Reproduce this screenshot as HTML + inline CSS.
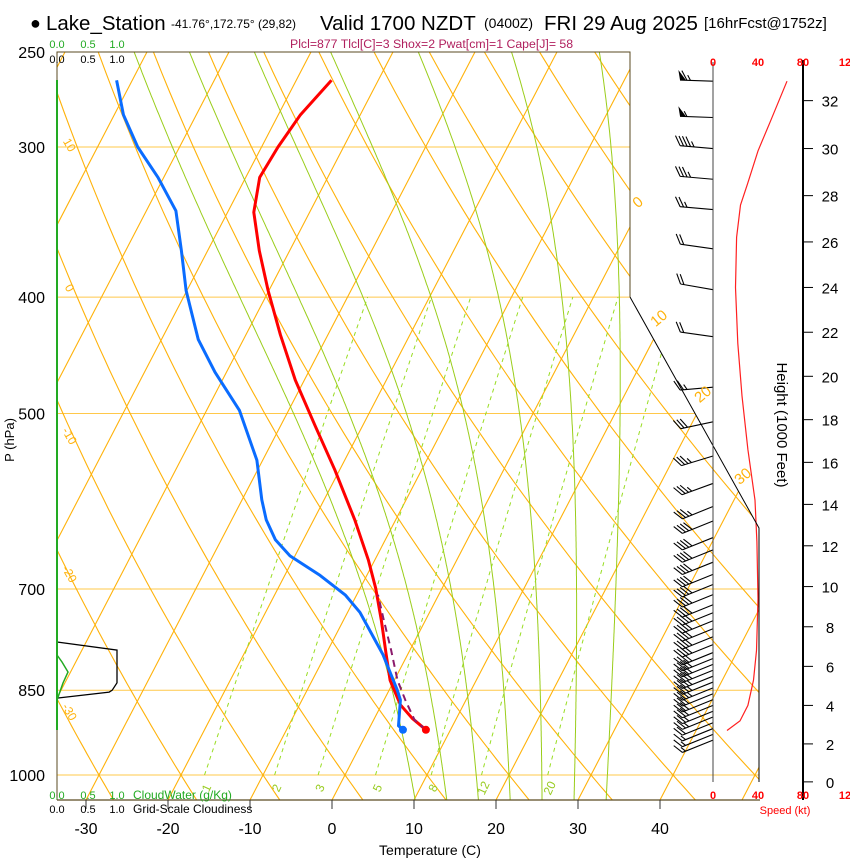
<!DOCTYPE html>
<html><head><meta charset="utf-8"><style>
html,body{margin:0;padding:0;background:#fff;}
svg{display:block;font-family:"Liberation Sans",Arial,sans-serif;}
</style></head><body>
<svg id="chart" width="850" height="860" viewBox="0 0 850 860" xmlns="http://www.w3.org/2000/svg">
<defs><clipPath id="plotclip"><polygon points="57,52 630,52 630,297 759,528 759,800 57,800"/></clipPath></defs>
<g id="grid" clip-path="url(#plotclip)"></g>
<g id="series"></g>
<g id="winds"></g>
<g id="axes"></g>
<g>
<text x="30" y="29" font-size="18">●</text>
<text x="46" y="30" font-size="20.5">Lake_Station</text>
<text x="171" y="28" font-size="12">-41.76°,172.75° (29,82)</text>
<text x="320" y="30" font-size="20.5">Valid 1700 NZDT</text>
<text x="484" y="28" font-size="14">(0400Z)</text>
<text x="544" y="30" font-size="20.5">FRI 29 Aug 2025</text>
<text x="704" y="28" font-size="15">[16hrFcst@1752z]</text>
<text x="290" y="48" font-size="12.3" fill="#b0205e">Plcl=877 Tlcl[C]=3 Shox=2 Pwat[cm]=1 Cape[J]= 58</text>
</g>
</svg>
<script>
// ---- data ----
const tempP = [264,282,300,318,340,366,395,430,469,511,557,613,662,699,743,794,834,874,897,917];
const tempT = [-45.7,-47.3,-48.0,-48.3,-46.8,-43.7,-40.1,-35.8,-31.1,-25.9,-20.6,-15.0,-10.8,-8.1,-5.4,-2.6,-0.5,2.3,4.6,7.0];
const dewP = [264,282,300,318,339,366,395,434,462,497,547,590,613,637,657,682,708,732,772,794,850,866,910,917];
const dewT = [-71.9,-68.9,-65.1,-60.7,-56.4,-53.2,-50.1,-45.5,-41.4,-36.0,-30.7,-27.6,-25.8,-23.4,-20.6,-15.7,-11.4,-8.5,-4.9,-3.0,1.0,2.0,3.4,4.2];
const parcelP = [917,900,866,834,787,743,708];
const parcelT = [7.0,5.0,2.6,0.4,-2.3,-5.1,-7.4];
const windH = [32.8,31.3,30.0,28.7,27.4,25.7,23.9,21.8,19.5,17.9,16.3,15.0,13.9,13.2,12.4,11.8,11.2,10.6,10.1,9.6,9.1,8.7,8.3,7.9,7.5,7.1,6.7,6.4,6.1,5.8,5.5,5.2,4.9,4.6,4.3,4.0,3.7,3.4,3.1,2.8,2.5,2.2];
const windSpd = [65,55,45,35,25,20,20,20,25,30,35,35,35,40,40,40,40,40,40,40,40,40,40,40,40,40,40,40,40,40,35,35,35,30,30,30,25,25,20,15,15,15];
const windDir = [272,272,275,275,275,278,280,278,265,258,253,250,248,248,248,248,248,248,248,248,248,248,248,248,248,248,248,248,248,248,248,248,248,248,248,248,248,248,248,248,248,248];
const speedH = [2.7,3.2,4.0,5.3,6.8,9.4,12.2,14.2,16.6,19.1,21.5,24.0,26.2,27.6,28.5,29.9,31.1,32.8];
const speedV = [12.4,24,31,36,38.7,40,39,37.3,31,25.8,22,20,21,24.4,30.7,40,50.7,65.8];
const cloudFracP = [775,787,838,850,853,863];
const cloudFracV = [0,1.0,1.0,0.92,0.87,0];
const tempTicks = [-30,-20,-10,0,10,20,30,40];
const presTicks = [250,300,400,500,700,850,1000];
const heightTicks = [0,2,4,6,8,10,12,14,16,18,20,22,24,26,28,30,32];
const mixRatios = [1,2,3,5,8,12,20];
const moistThetaW = [8,12,16,20,24,28,32];

// ---- axes functions ----
const NS="http://www.w3.org/2000/svg";
function yP(p){return 775-521.6*Math.log(1000/p);}
function xT(T,p){return 345+8.2*T+0.52*(775-yP(p));}
function pH(kft){const m=kft*304.8;return 1013.25*Math.pow(1-6.5e-3*m/288.15,5.256);}
function yH(kft){return yP(pH(kft));}
function xS(s){return 713+1.125*s;}
function el(tag,attrs,parent){const e=document.createElementNS(NS,tag);for(const k in attrs)e.setAttribute(k,attrs[k]);parent.appendChild(e);return e;}
function pathD(pts){return pts.map((q,i)=>(i?'L':'M')+q[0].toFixed(1)+','+q[1].toFixed(1)).join(' ');}
const grid=document.getElementById('grid'),series=document.getElementById('series'),winds=document.getElementById('winds'),axes=document.getElementById('axes');

presTicks.forEach(p=>{
  const l=el('line',{x1:57,x2:760,y1:yP(p),y2:yP(p),stroke:'#ffc84a','stroke-width':1},grid);
  
  
});
for(let T=-120;T<=50;T+=10){
  const l=el('line',{x1:xT(T,1050),y1:yP(1050),x2:xT(T,240),y2:yP(240),stroke:'#ffb20a','stroke-width':1.1},grid);
  
  
}
for(let th=-40;th<=170;th+=10){
  const pts=[];for(let p=1050;p>=240;p-=10){const Tk=(th+273.15)*Math.pow(p/1000,0.286);pts.push([xT(Tk-273.15,p),yP(p)]);}
  const l=el('path',{d:pathD(pts),fill:'none',stroke:'#ffb20a','stroke-width':1.1},grid);
  
  
}
function es(T){return 6.112*Math.exp(17.67*T/(T+243.5));}
moistThetaW.forEach(tw=>{
  function integ(p0,p1){let T=tw,p=p0;const pts=[[xT(T,p),yP(p)]];const dp=(p1>p0?2:-2);
    while((dp<0&&p>p1)||(dp>0&&p<p1)){const Tk=T+273.15,e=es(T),rs=0.622*e/(p-e);
      const d=(287*Tk+2.5e6*rs)/(1004+2.5e6*2.5e6*rs*0.622/(287*Tk*Tk))/p;T+=d*dp;p+=dp;pts.push([xT(T,p),yP(p)]);}
    return pts;}
  const up=integ(1000,240),dn=integ(1000,1050);
  const pts=dn.reverse().concat(up);
  const l=el('path',{d:pathD(pts),fill:'none',stroke:'#9acd1a','stroke-width':1},grid);
  
  
});
mixRatios.forEach(w=>{
  const pts=[];for(let p=1000;p>=400;p-=10){const e=w*p/(622+w);const a=Math.log(e/6.112);const T=243.5*a/(17.67-a);pts.push([xT(T,p),yP(p)]);}
  const l=el('path',{d:pathD(pts),fill:'none',stroke:'#99dd22','stroke-width':1,'stroke-dasharray':'4,4'},grid);
  
  
  const e=w*1000/(622+w),a=Math.log(e/6.112),T=243.5*a/(17.67-a);
  const t=el('text',{x:xT(T,1000)+2,y:792,'font-size':12,fill:'#99cc22','text-anchor':'middle',transform:`rotate(-65 ${xT(T,1000)+2} 788)`},axes);
  t.textContent=w;
  
  
});
[['10',66,147],['0',66,290],['-10',66,438],['-20',66,576],['-30',66,714]].forEach(a=>{
  const t=el('text',{x:a[1],y:a[2],'font-size':12,fill:'#ffb20a','text-anchor':'middle',transform:`rotate(60 ${a[1]} ${a[2]})`},axes);t.textContent=a[0];
  
  
});
[['0',641,206],['10',662,322],['20',706,398],['30',746,480]].forEach(a=>{
  const t=el('text',{x:a[1],y:a[2],'font-size':15,fill:'#ffb20a','text-anchor':'middle',transform:`rotate(-40 ${a[1]} ${a[2]})`},axes);t.textContent=a[0];
  
  
});

el('polyline',{points:'57,800 57,52 630,52 630,297',fill:'none',stroke:'#5a4a20','stroke-width':1},axes);
el('polyline',{points:'630,297 759,528 759,782',fill:'none',stroke:'#000','stroke-width':1},axes);
el('line',{x1:57,x2:760,y1:800,y2:800,stroke:'#5a4a20','stroke-width':1.2},axes);
el('line',{x1:57,x2:57,y1:80,y2:730,stroke:'#22aa22','stroke-width':2},axes);
el('line',{x1:713,x2:713,y1:62,y2:782,stroke:'#444','stroke-width':1},axes);
el('line',{x1:803,x2:803,y1:60,y2:800,stroke:'#000','stroke-width':2},axes);

tempTicks.forEach(T=>{
  const x=345+8.2*T-13;
  el('line',{x1:x,x2:x,y1:800,y2:809,stroke:'#333'},axes);
  const t=el('text',{x:x,y:834,'font-size':16,'text-anchor':'middle'},axes);t.textContent=T;
  
  
});
presTicks.forEach(p=>{
  const t=el('text',{x:45,y:yP(p)+6,'font-size':16,'text-anchor':'end'},axes);t.textContent=p;
  
  
});
heightTicks.forEach(h=>{
  const y=yH(h);el('line',{x1:803,x2:813,y1:y,y2:y,stroke:'#000'},axes);
  const t=el('text',{x:830,y:y+6,'font-size':15,'text-anchor':'middle'},axes);t.textContent=h;
  
  
});
[[713,'0'],[758,'40'],[803,'80'],[845,'12']].forEach(a=>{[66,799].forEach(y=>{
  const t=el('text',{x:a[0],y:y,'font-size':11,'font-weight':'bold',fill:'#ff0000','text-anchor':'middle'},axes);t.textContent=a[1];
  
  
});});
function txt(x,y,s,str,attrs,name){const t=el('text',Object.assign({x:x,y:y,'font-size':s},attrs||{}),axes);t.textContent=str;
  
  return t;}
txt(785,814,11,'Speed (kt)',{fill:'#ff0000','text-anchor':'middle'},'speed-axis-title');
txt(430,855,14,'Temperature (C)',{'text-anchor':'middle'},'x-axis-title');
txt(14,440,13,'P (hPa)',{'text-anchor':'middle',transform:'rotate(-90 14 440)'},'y-axis-title');
txt(777,425,15,'Height (1000 Feet)',{'text-anchor':'middle',transform:'rotate(90 777 425)'},'height-axis-title');
[[57,'0.0'],[88,'0.5'],[117,'1.0']].forEach(a=>{
  txt(a[0],48,11,a[1],{fill:'#22aa22','text-anchor':'middle'},'cloudwater-top-label');
  txt(a[0],63,11,a[1],{'text-anchor':'middle'},'cloudiness-top-label');
  txt(a[0],799,11,a[1],{fill:'#22aa22','text-anchor':'middle'},'cloudwater-bottom-label');
  txt(a[0],813,11,a[1],{'text-anchor':'middle'},'cloudiness-bottom-label');
});
txt(133,799,12,'CloudWater (g/Kg)',{fill:'#22aa22'},'cloudwater-title');
txt(133,813,12,'Grid-Scale Cloudiness',{},'cloudiness-title');

const cf=el('path',{d:pathD(cloudFracP.map((p,i)=>[57+60*cloudFracV[i],yP(p)])),fill:'none',stroke:'#000','stroke-width':1.3},series);


const cw=el('path',{d:'M57,655 L62,662 L68,672 L63,683 L57,700',fill:'none',stroke:'#22aa22','stroke-width':1.5},series);



const tl=el('path',{d:pathD(tempP.map((p,i)=>[xT(tempT[i],p),yP(p)])),fill:'none',stroke:'#ff0000','stroke-width':3,'stroke-linejoin':'round'},series);


const dl=el('path',{d:pathD(dewP.map((p,i)=>[xT(dewT[i],p),yP(p)])),fill:'none',stroke:'#0a6cff','stroke-width':3,'stroke-linejoin':'round'},series);


const pl=el('path',{d:pathD(parcelP.map((p,i)=>[xT(parcelT[i],p),yP(p)])),fill:'none',stroke:'#8b1a6b','stroke-width':2,'stroke-dasharray':'7,5'},series);


const td=el('circle',{cx:xT(tempT[tempT.length-1],tempP[tempP.length-1]),cy:yP(tempP[tempP.length-1]),r:4,fill:'#ff0000'},series);


const dd=el('circle',{cx:xT(dewT[dewT.length-1],dewP[dewP.length-1]),cy:yP(dewP[dewP.length-1]),r:4,fill:'#0a6cff'},series);


const sl=el('path',{d:pathD(speedH.map((h,i)=>[xS(speedV[i]),yH(h)])),fill:'none',stroke:'#ff2020','stroke-width':1.2},series);



windH.forEach((h,i)=>{
  const g=el('g',{},winds);
  
  
  const bx=713,by=yH(h),a=windDir[i]*Math.PI/180;
  const ux=Math.sin(a),uy=-Math.cos(a),px=-uy,py=ux,L=33;
  const tx=bx+L*ux,ty=by+L*uy;
  el('line',{x1:bx,y1:by,x2:tx,y2:ty,stroke:'#000','stroke-width':1.1},g);
  let s=Math.round(windSpd[i]/5)*5,pos=0;
  while(s>=50){const x0=tx-pos*ux,y0=ty-pos*uy;
    el('polygon',{points:`${x0},${y0} ${x0+10*px+2*ux},${y0+10*py+2*uy} ${x0-6*ux},${y0-6*uy}`,fill:'#000'},g);pos+=7;s-=50;}
  while(s>=10){const x0=tx-pos*ux,y0=ty-pos*uy;
    el('line',{x1:x0,y1:y0,x2:x0+11*(0.5*ux+0.87*px),y2:y0+11*(0.5*uy+0.87*py),stroke:'#000','stroke-width':1.1},g);pos+=3.5;s-=10;}
  if(s>=5){const x0=tx-pos*ux,y0=ty-pos*uy;
    el('line',{x1:x0,y1:y0,x2:x0+6*(0.5*ux+0.87*px),y2:y0+6*(0.5*uy+0.87*py),stroke:'#000','stroke-width':1.1},g);}
});
</script>
</body></html>
